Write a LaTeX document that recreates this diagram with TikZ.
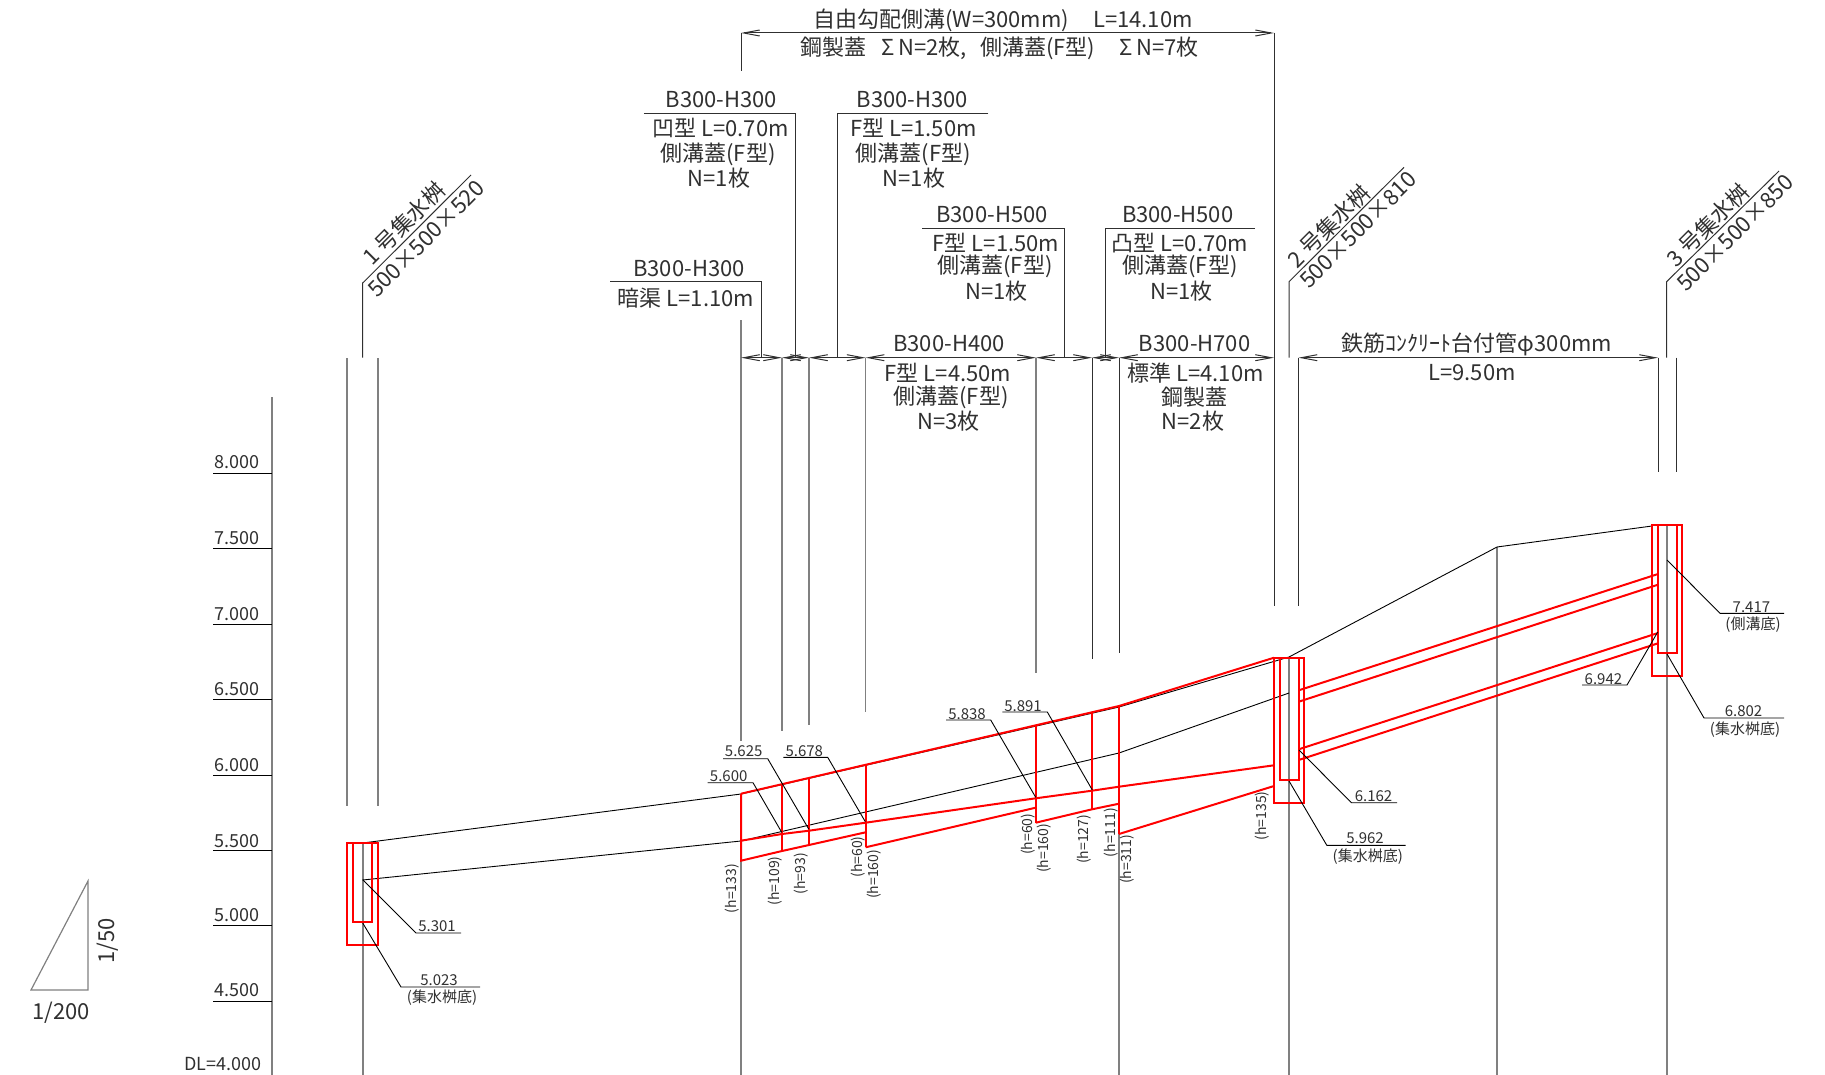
\documentclass[tikz,border=0pt]{standalone}
\usepackage{fontspec}
\setmainfont{Noto Sans CJK JP}
\usetikzlibrary{arrows.meta}
\definecolor{pipeRed}{HTML}{FF0000}
\definecolor{lineGray}{HTML}{808080}
\definecolor{leadGray}{HTML}{303030}
\definecolor{textGray}{HTML}{303030}
\tikzset{
  groundLine/.style={draw=lineGray, line width=0.85pt},
  extLine/.style={draw=leadGray, line width=0.5pt},
  leadLine/.style={draw=black, line width=0.45pt},
  levelLine/.style={draw=black, line width=0.45pt},
  pipeLine/.style={draw=pipeRed, line width=1pt},
  dimLine/.style={draw=leadGray, line width=0.5pt, {Straight Barb[length=8pt,width=3pt]}-{Straight Barb[length=8pt,width=3pt]}},
  bigText/.style={text=textGray, font=\fontsize{11}{13}\selectfont, inner sep=0pt},
  axisText/.style={text=textGray, font=\fontsize{9}{11}\selectfont, inner sep=0pt},
  smallText/.style={text=textGray, font=\fontsize{7.5}{9}\selectfont, inner sep=0pt, yshift=-0.8pt},
  heightText/.style={text=textGray, font=\fontsize{7}{9}\selectfont, inner sep=0pt, rotate=90}
}

\begin{document}
\begin{tikzpicture}[x=0.5pt,y=-0.5pt]
  \useasboundingbox (0,0) rectangle (1825,1075);

  % stations on the long dimension line
  \coordinate (dimA) at (741,357.7);
  \coordinate (dimB) at (782,357.7);
  \coordinate (dimC) at (809,357.7);
  \coordinate (dimD) at (865.6,357.7);
  \coordinate (dimE) at (1036,357.7);
  \coordinate (dimF) at (1092,357.7);
  \coordinate (dimG) at (1119,357.7);
  \coordinate (dimH) at (1274,357.7);
  \coordinate (dimI) at (1298.5,357.7);
  \coordinate (dimJ) at (1658,357.7);
  \coordinate (topA) at (741,33);
  \coordinate (topB) at (1274,33);

  % level scale
  \draw[groundLine] (272,397) -- (272,1075);
  \draw[levelLine] (213,473) -- (272,473);
  \draw[levelLine] (213,548.5) -- (272,548.5);
  \draw[levelLine] (213,624) -- (272,624);
  \draw[levelLine] (213,699.5) -- (272,699.5);
  \draw[levelLine] (213,775) -- (272,775);
  \draw[levelLine] (213,850) -- (272,850);
  \draw[levelLine] (213,925.5) -- (272,925.5);
  \draw[levelLine] (213,1001) -- (272,1001);
  \node[axisText] (lvA) at (237,462.5) {8.000};
  \node[axisText] (lvB) at (237,538.5) {7.500};
  \node[axisText] (lvC) at (237,614.5) {7.000};
  \node[axisText] (lvD) at (237,689.5) {6.500};
  \node[axisText] (lvE) at (237,765.5) {6.000};
  \node[axisText] (lvF) at (237,841) {5.500};
  \node[axisText] (lvG) at (237,915) {5.000};
  \node[axisText] (lvH) at (237,990) {4.500};
  \node[axisText] (lvI) at (223,1064.5) {DL=4.000};

  % slope triangle
  \draw[draw=lineGray, line width=0.6pt] (31,990) -- (88,990) -- (88,881) -- cycle;
  \node[bigText, rotate=90] (slopeV) at (108,941) {1/50};
  \node[bigText] (slopeH) at (61,1013) {1/200};

  % extension lines
  \draw[extLine] (topA) -- (741,71);
  \draw[extLine] (topB) -- (1274,606);
  \draw[groundLine] (741,320) -- (741,741);
  \draw[groundLine] (741,861) -- (741,1075);
  \draw[groundLine] (dimB) -- (782,731);
  \draw[groundLine] (dimC) -- (809,725);
  \draw[groundLine] (dimD) -- (865.6,712);
  \draw[groundLine] (dimE) -- (1036,673);
  \draw[extLine] (dimF) -- (1092,659);
  \draw[extLine] (dimG) -- (1119,653);
  \draw[groundLine] (1119,834) -- (1119,1075);
  \draw[extLine] (dimI) -- (1298.5,606);
  \draw[extLine] (dimJ) -- (1658,472);
  \draw[extLine] (1676,357.7) -- (1676,472);
  \draw[groundLine] (347.3,358) -- (347.3,806);
  \draw[groundLine] (378,358) -- (378,806);

  % center lines of the pits
  \draw[groundLine] (362.7,843) -- (362.7,1075);
  \draw[groundLine] (1289,657) -- (1289,1075);
  \draw[groundLine] (1497,547) -- (1497,1075);
  \draw[groundLine] (1667,525) -- (1667,1075);

  % dimensions
  \draw[dimLine] (topA) -- (topB);
  \draw[dimLine] (dimA) -- (dimB);
  \draw[dimLine] (dimB) -- (dimC);
  \draw[dimLine] (dimC) -- (dimD);
  \draw[dimLine] (dimD) -- (dimE);
  \draw[dimLine] (dimE) -- (dimF);
  \draw[dimLine] (dimF) -- (dimG);
  \draw[dimLine] (dimG) -- (dimH);
  \draw[dimLine] (dimI) -- (dimJ);
  \node[bigText] (topUp) at (1003,20) {自由勾配側溝(W=300mm)\hspace{1.1em}L=14.10m};
  \node[bigText] (topDn) at (999.5,48) {鋼製蓋\hspace{0.7em}Σ\,N=2枚,\hspace{0.6em}側溝蓋(F型)\hspace{1.1em}Σ\,N=7枚};
  \node[bigText] (pipeUp) at (1477,344) {鉄筋ｺﾝｸﾘｰﾄ台付管φ300mm};
  \node[bigText] (pipeDn) at (1472,373) {L=9.50m};

  % callouts over the dimension line
  \draw[extLine] (610,282) -- (761.6,282) -- (761.6,357.7);
  \node[bigText] (coverA) at (689,268.7) {B300-H300};
  \node[bigText] (coverAb) at (686,297.7) {暗渠 L=1.10m};

  \draw[extLine] (643.8,113.3) -- (795.5,113.3) -- (795.5,357.7);
  \node[bigText] (coverB) at (721.4,99.3) {B300-H300};
  \node[bigText] (coverBb) at (720.5,128.3) {凹型 L=0.70m};
  \node[bigText] (coverBc) at (718,154.3) {側溝蓋(F型)};
  \node[bigText] (coverBd) at (719,177.7) {N=1枚};

  \draw[extLine] (988.4,113.3) -- (837,113.3) -- (837,357.7);
  \node[bigText] (coverC) at (912.5,99.3) {B300-H300};
  \node[bigText] (coverCb) at (913.4,128.3) {F型 L=1.50m};
  \node[bigText] (coverCc) at (913.4,154.3) {側溝蓋(F型)};
  \node[bigText] (coverCd) at (914,177.7) {N=1枚};

  \draw[extLine] (922.3,228.3) -- (1064.3,228.3) -- (1064.3,357.7);
  \node[bigText] (coverD) at (992,214.3) {B300-H500};
  \node[bigText] (coverDb) at (996,243.3) {F型 L=1.50m};
  \node[bigText] (coverDc) at (995,266.7) {側溝蓋(F型)};
  \node[bigText] (coverDd) at (996.4,290.7) {N=1枚};

  \draw[extLine] (1255,228.3) -- (1105.4,228.3) -- (1105.4,357.7);
  \node[bigText] (coverE) at (1177.7,214.3) {B300-H500};
  \node[bigText] (coverEb) at (1180,243.3) {凸型 L=0.70m};
  \node[bigText] (coverEc) at (1180,266.7) {側溝蓋(F型)};
  \node[bigText] (coverEd) at (1181.7,290.7) {N=1枚};

  \node[bigText] (coverF) at (949,344) {B300-H400};
  \node[bigText] (coverFb) at (948,372.7) {F型 L=4.50m};
  \node[bigText] (coverFc) at (951,397.3) {側溝蓋(F型)};
  \node[bigText] (coverFd) at (948.7,421) {N=3枚};

  \node[bigText] (coverG) at (1194.6,344) {B300-H700};
  \node[bigText] (coverGb) at (1195.5,372.7) {標準 L=4.10m};
  \node[bigText] (coverGc) at (1194.6,397.3) {鋼製蓋};
  \node[bigText] (coverGd) at (1193,421) {N=2枚};

  % pit callouts
  \draw[extLine] (362.7,357.7) -- (362.7,283) -- (471,175);
  \node[bigText, rotate=45] (pitA) at (404,223.5) {1 号集水桝};
  \node[bigText, rotate=45] (pitAb) at (426,238.6) {500×500×520};
  \draw[extLine] (1289,357.7) -- (1289,281.7) -- (1404,167.3);
  \node[bigText, rotate=45] (pitB) at (1329,226) {2 号集水桝};
  \node[bigText, rotate=45] (pitBb) at (1358,230) {500×500×810};
  \draw[extLine] (1666.6,357.7) -- (1666.6,281.7) -- (1779,171);
  \node[bigText, rotate=45] (pitC) at (1707.6,225) {3 号集水桝};
  \node[bigText, rotate=45] (pitCb) at (1735,233) {500×500×850};

  % ground lines
  \draw[leadLine] (362.7,843) -- (741,794) -- (1119,707) -- (1289,657) -- (1497,547) -- (1652,526);
  \draw[leadLine] (362.7,880) -- (741,841) -- (1119,753) -- (1289,693);

  % side ditch
  \draw[pipeLine] (741,793.7) -- (1119,706) -- (1274,657.7);
  \draw[pipeLine] (741,840.7) -- (782,834) -- (809,830.7) -- (865.6,822.7) -- (1035.7,798.3) -- (1092,790.7) -- (1119,786.7) -- (1274,765.3);
  \draw[pipeLine] (741,793.7) -- (741,860.7) -- (782,851) -- (809,845) -- (865.6,832.3);
  \draw[pipeLine] (865.6,847.3) -- (1035.7,807.7);
  \draw[pipeLine] (1035.7,822.7) -- (1092,809.3) -- (1119,803.7);
  \draw[pipeLine] (1119,834) -- (1274,786);
  \draw[pipeLine] (782,784.3) -- (782,851);
  \draw[pipeLine] (809,777.7) -- (809,845);
  \draw[pipeLine] (865.6,764.3) -- (865.6,847.3);
  \draw[pipeLine] (1035.7,725.7) -- (1035.7,822.7);
  \draw[pipeLine] (1092,712.3) -- (1092,809.3);
  \draw[pipeLine] (1119,706) -- (1119,834);

  % pipe between the pits
  \draw[pipeLine] (1298.7,690.3) -- (1658,574);
  \draw[pipeLine] (1298.7,701.7) -- (1658,584.7);
  \draw[pipeLine] (1298.7,749.3) -- (1658,633);
  \draw[pipeLine] (1298.7,760) -- (1658,643.3);

  % pits
  \draw[pipeLine] (347.3,843) rectangle (378,944.7);
  \draw[pipeLine] (353.3,843) rectangle (372.3,922);
  \draw[pipeLine] (1274,657.7) rectangle (1304,802.7);
  \draw[pipeLine] (1279.7,657.7) rectangle (1298.7,780);
  \draw[pipeLine] (1652,524.7) rectangle (1682.4,675.7);
  \draw[pipeLine] (1658,524.7) rectangle (1676.7,653);

  % level callouts
  \draw[leadLine] (362.7,879.7) -- (416,933) -- (461,933);
  \node[smallText] (elA) at (437,925) {5.301};
  \draw[leadLine] (362.7,923) -- (401,987) -- (480,987);
  \node[smallText] (elB) at (439,979) {5.023};
  \node[smallText] (elBb) at (442,996) {(集水桝底)};
  \draw[leadLine] (781.7,832.3) -- (753,782.7) -- (707.7,782.7);
  \node[smallText] (elC) at (728.7,774.3) {5.600};
  \draw[leadLine] (808.7,829) -- (767.7,758.7) -- (723,758.7);
  \node[smallText] (elD) at (743.7,750) {5.625};
  \draw[leadLine] (865.3,821.7) -- (827.7,757.3) -- (783.3,757.3);
  \node[smallText] (elE) at (804.3,749.3) {5.678};
  \draw[leadLine] (1035.7,797.3) -- (990.7,720) -- (946,720);
  \node[smallText] (elF) at (967,712.7) {5.838};
  \draw[leadLine] (1092.3,790) -- (1047.3,712) -- (1002.3,712);
  \node[smallText] (elG) at (1023,704.3) {5.891};
  \draw[leadLine] (1299,750) -- (1351.4,802.7) -- (1397,802.7);
  \node[smallText] (elH) at (1373.5,795) {6.162};
  \draw[leadLine] (1289,781) -- (1326.8,845.3) -- (1405.7,845.3);
  \node[smallText] (elI) at (1365,837) {5.962};
  \node[smallText] (elIb) at (1367.8,855) {(集水桝底)};
  \draw[leadLine] (1657.7,632) -- (1627,685) -- (1582,685);
  \node[smallText] (elJ) at (1603.4,677.3) {6.942};
  \draw[leadLine] (1667,560) -- (1720,613.3) -- (1784,613.3);
  \node[smallText] (elK) at (1751.4,606) {7.417};
  \node[smallText] (elKb) at (1753,622.7) {(側溝底)};
  \draw[leadLine] (1667,654) -- (1704,718) -- (1784,718);
  \node[smallText] (elL) at (1743.5,710) {6.802};
  \node[smallText] (elLb) at (1745,727.7) {(集水桝底)};

  % depth labels
  \node[heightText] (htA) at (731.7,888.7) {(h=133)};
  \node[heightText] (htB) at (774.7,881) {(h=109)};
  \node[heightText] (htC) at (801.3,873.7) {(h=93)};
  \node[heightText] (htD) at (858,857) {(h=60)};
  \node[heightText] (htE) at (874.3,874.3) {(h=160)};
  \node[heightText] (htF) at (1027.7,834.3) {(h=60)};
  \node[heightText] (htG) at (1044,848.3) {(h=160)};
  \node[heightText] (htH) at (1084.3,839.3) {(h=127)};
  \node[heightText] (htI) at (1110.7,832.7) {(h=111)};
  \node[heightText] (htJ) at (1126.7,859.3) {(h=311)};
  \node[heightText] (htK) at (1262,816) {(h=135)};
\end{tikzpicture}
\end{document}
